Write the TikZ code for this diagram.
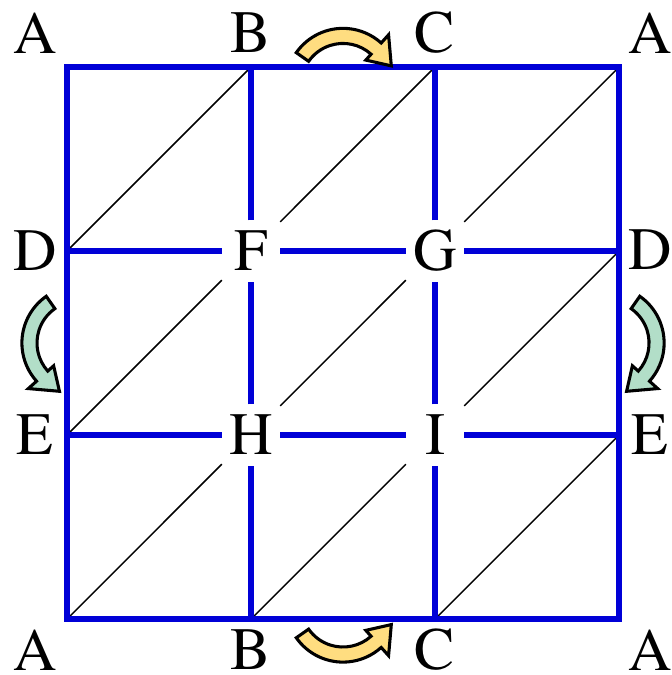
\documentclass[tikz,border=0pt]{standalone}
\usepackage{fontspec}
\setmainfont{TeX Gyre Termes}
\usepackage{tikz}
\usetikzlibrary{positioning}
\definecolor{gridBlue}{RGB}{0, 0, 215}
\definecolor{arrYellow}{RGB}{255, 221, 128}
\definecolor{arrGreen}{RGB}{178, 222, 200}

% curved block arrow: center, fill, tail angle, head angle, tip angle
\newcommand{\bendarrow}[5]{%
  \filldraw[barrow, fill=#2] ([shift={(#3:0.31)}]#1)
    arc[start angle=#3, end angle=#4, radius=0.31]
    -- ([shift={(#4:0.37)}]#1) -- ([shift={(#5:0.283)}]#1)
    -- ([shift={(#4:0.185)}]#1) -- ([shift={(#4:0.228)}]#1)
    arc[start angle=#4, end angle=#3, radius=0.228] -- cycle;}

\begin{document}
\begin{tikzpicture}[x=2cm, y=2cm,
  gridline/.style={draw=gridBlue, line width=2pt},
  diag/.style={draw=black, line width=0.45pt},
  lbl/.style={font=\fontsize{18.6}{22}\selectfont, inner sep=0pt},
  pt/.style={lbl, fill=white, minimum width=0.62cm, minimum height=0.65cm},
  barrow/.style={draw=black, line width=0.95pt, line join=miter}]

  \useasboundingbox (-0.364,-0.304) rectangle (3.283,3.364);

  % grid points
  \foreach \i in {0,...,3}
    \foreach \j in {0,...,3}
      \coordinate (g\i\j) at (\i,\j);
  \node[pt] (g12) at (1,2) {F};
  \node[pt] (g22) at (2,2) {G};
  \node[pt] (g11) at (1,1) {H};
  \node[pt] (g21) at (2,1) {I};

  % diagonals
  \foreach \i in {0,1,2}
    \foreach \j in {0,1,2} {
      \pgfmathtruncatemacro{\ii}{\i+1}
      \pgfmathtruncatemacro{\jj}{\j+1}
      \draw[diag] (g\i\j) -- (g\ii\jj);
    }

  % blue lines
  \draw[gridline] (g00) -- (g30) -- (g33) -- (g03) -- cycle;
  \draw[gridline] (g01) -- (g11) -- (g21) -- (g31);
  \draw[gridline] (g02) -- (g12) -- (g22) -- (g32);
  \draw[gridline] (g10) -- (g11) -- (g12) -- (g13);
  \draw[gridline] (g20) -- (g21) -- (g22) -- (g23);

  % outer labels
  \node[lbl] (tA1) at (-0.174,3.185) {A};
  \node[lbl] (tB)  at (1,3.185)      {B};
  \node[lbl] (tC)  at (2,3.185)      {C};
  \node[lbl] (tA2) at (3.168,3.185)  {A};
  \node[lbl] (lD)  at (-0.174,2)     {D};
  \node[lbl] (rD)  at (3.168,2.01)   {D};
  \node[lbl] (lE)  at (-0.174,1)     {E};
  \node[lbl] (rE)  at (3.168,1)      {E};
  \node[lbl] (bA1) at (-0.174,-0.168){A};
  \node[lbl] (bB)  at (1,-0.168)     {B};
  \node[lbl] (bC)  at (2,-0.168)     {C};
  \node[lbl] (bA2) at (3.168,-0.168) {A};

  % arrows
  \coordinate (ct) at (1.5,2.9);
  \coordinate (cb) at (1.5,0.076);
  \coordinate (cl) at (0.065,1.5);
  \coordinate (cr) at (2.935,1.5);
  \bendarrow{ct}{arrYellow}{145}{48}{22}
  \bendarrow{cb}{arrYellow}{-145}{-48}{-22}
  \bendarrow{cl}{arrGreen}{125}{222}{248}
  \bendarrow{cr}{arrGreen}{55}{-42}{-68}

\end{tikzpicture}
\end{document}
